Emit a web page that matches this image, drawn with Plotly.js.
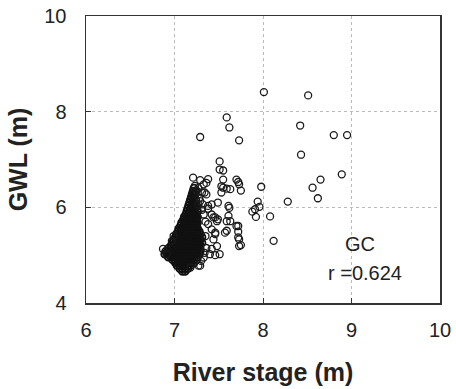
<!DOCTYPE html>
<html>
<head>
<meta charset="utf-8">
<script src="https://cdn.plot.ly/plotly-3.0.1.min.js"></script>
<style>html,body{margin:0;padding:0;background:#fff;}#chart{width:456px;height:389px;}</style>
</head>
<body>
<div id="chart"></div>
<script>
// Dense cluster: GWL rows and the river stages read along each row
const clusterGWL = [4.66,4.72,4.78,4.84,4.90,4.96,5.02,5.08,5.14,5.20,5.26,5.32,5.38,5.44,5.50,5.56,5.62,5.68,5.74,5.80,5.86,5.92,5.98,6.04,6.10,6.16,6.22,6.28,6.34,6.40];
const clusterStage = [
  [7.09,7.12],
  [7.06,7.09,7.12,7.15],
  [7.03,7.06,7.09,7.12,7.15,7.18],
  [7.01,7.04,7.07,7.10,7.13,7.16,7.19,7.22],
  [6.98,7.01,7.04,7.07,7.10,7.13,7.16,7.19,7.22,7.25],
  [6.93,6.96,6.99,7.02,7.05,7.08,7.11,7.14,7.17,7.20,7.23,7.26],
  [6.89,6.92,6.95,6.98,7.01,7.04,7.07,7.10,7.13,7.16,7.19,7.22,7.25,7.28],
  [6.90,6.93,6.96,6.99,7.02,7.05,7.08,7.11,7.14,7.17,7.20,7.23,7.26,7.29],
  [6.93,6.96,6.99,7.02,7.05,7.08,7.11,7.14,7.17,7.20,7.23,7.26,7.29],
  [6.96,6.99,7.02,7.05,7.08,7.11,7.14,7.17,7.20,7.23,7.26,7.29],
  [6.98,7.01,7.04,7.07,7.10,7.13,7.16,7.19,7.22,7.25,7.28,7.31],
  [6.99,7.02,7.05,7.08,7.11,7.14,7.17,7.20,7.23,7.26,7.29],
  [7.01,7.04,7.07,7.10,7.13,7.16,7.19,7.22,7.25,7.28,7.31],
  [7.02,7.05,7.08,7.11,7.14,7.17,7.20,7.23,7.26,7.29],
  [7.04,7.07,7.10,7.13,7.16,7.19,7.22,7.25,7.28],
  [7.05,7.08,7.11,7.14,7.17,7.20,7.23,7.26],
  [7.07,7.10,7.13,7.16,7.19,7.22,7.25],
  [7.08,7.11,7.14,7.17,7.20,7.23,7.26],
  [7.10,7.13,7.16,7.19,7.22,7.25],
  [7.11,7.14,7.17,7.20,7.23,7.26],
  [7.13,7.16,7.19,7.22,7.25],
  [7.14,7.17,7.20,7.23,7.26],
  [7.15,7.18,7.21,7.24],
  [7.16,7.19,7.22,7.25],
  [7.17,7.20,7.23],
  [7.18,7.21,7.24],
  [7.19,7.22],
  [7.20,7.23],
  [7.21,7.24],
  [7.22]
];

// Scattered points
const riverStage = [8.01,8.51,7.59,7.62,7.29,7.73,8.42,8.80,8.95,8.43,7.51,7.51,7.55,8.89,8.65,8.56,8.62,8.28,7.98,7.94,
  7.96,7.91,7.88,7.92,8.08,8.12,7.72,7.72,7.75,7.62,7.61,7.70,7.72,7.75,7.73,7.55,7.53,7.55,7.59,7.63,
  7.53,7.21,7.29,7.38,7.33,7.36,7.34,7.31,7.36,7.29,7.27,7.32,7.38,7.42,7.49,7.61,7.38,7.42,7.44,7.46,
  7.49,7.48,7.59,7.63,7.70,7.38,7.42,7.46,7.44,7.46,7.57,7.59,7.72,7.73,7.48,7.42,7.40,7.46,7.51,7.29,
  7.27,7.18,6.99,6.97,6.87,6.91,7.73,7.33,7.35,7.31,7.28,7.25,7.23,7.27,7.35,7.36,7.34,7.33,7.30];
const gwl = [8.41,8.34,7.88,7.67,7.47,7.40,7.71,7.51,7.51,7.10,6.96,6.79,6.77,6.69,6.58,6.41,6.19,6.12,6.43,6.12,
  6.01,5.96,5.91,5.80,5.81,5.30,5.61,5.37,5.21,5.99,5.82,6.58,6.53,6.35,6.48,6.58,6.44,6.41,6.39,6.38,
  6.31,6.62,6.57,6.59,6.48,6.51,6.31,6.31,6.27,6.13,6.06,6.06,6.03,6.06,6.10,6.03,5.97,5.85,5.79,5.79,
  5.75,5.71,5.71,5.71,5.61,5.65,5.54,5.47,5.33,5.44,5.47,5.51,5.49,5.33,5.19,5.13,5.02,5.00,5.02,4.78,
  4.78,4.74,5.40,5.30,5.13,5.02,5.19,5.85,5.70,5.95,6.20,6.35,6.45,6.40,5.40,5.15,5.05,4.95,4.88];

const xTicks = [6,7,8,9,10];
const yTicks = [4,6,8,10];
const siteLabel = 'GC';
const corrLabel = 'r =0.624';

const cx = [], cy = [];
clusterGWL.forEach((g, i) => clusterStage[i].forEach(s => { cx.push(s); cy.push(g); }));

const fam = 'Liberation Sans, Arial, sans-serif';
const tickFont = {family: fam, size: 20, color: '#222'};
const titleFont = {family: fam, size: 25, color: '#222', weight: 'bold'};

const clusterTrace = {
  x: cx, y: cy, type: 'scatter', mode: 'markers',
  marker: {symbol: 'circle-open', size: 7, color: '#111', line: {width: 1.8, color: '#111'}},
  hoverinfo: 'skip'
};
const scatterTrace = {
  x: riverStage, y: gwl, type: 'scatter', mode: 'markers',
  marker: {symbol: 'circle-open', size: 7, color: '#1a1a1a', line: {width: 1.3, color: '#1a1a1a'}},
  hoverinfo: 'skip'
};

const axisCommon = {
  showline: true, mirror: true, linecolor: '#333', linewidth: 1.5,
  showgrid: true, gridcolor: '#bbbbbb', gridwidth: 1, griddash: 'dot',
  zeroline: false, ticks: 'inside', ticklen: 5, tickcolor: '#333',
  tickfont: tickFont, automargin: false
};

const layout = {
  width: 456, height: 389,
  margin: {l: 86, r: 16, t: 16, b: 86},
  paper_bgcolor: '#fff', plot_bgcolor: '#fff',
  showlegend: false,
  xaxis: Object.assign({}, axisCommon, {
    range: [6, 10], tickvals: xTicks, ticktext: xTicks.map(String),
    ticklabelstandoff: 8,
    title: {text: '<b>River stage (m)</b>', font: titleFont, standoff: 24}
  }),
  yaxis: Object.assign({}, axisCommon, {
    range: [4, 10], tickvals: yTicks, ticktext: yTicks.map(String),
    ticklabelstandoff: 14,
    title: {text: '<b>GWL (m)</b>', font: titleFont, standoff: 9}
  }),
  annotations: [
    {x: 9.1, y: 5.23, xref: 'x', yref: 'y', text: siteLabel, showarrow: false, font: {family: fam, size: 20, color: '#222'}},
    {x: 9.15, y: 4.63, xref: 'x', yref: 'y', text: corrLabel, showarrow: false, font: {family: fam, size: 20, color: '#222'}}
  ]
};

Plotly.newPlot('chart', [clusterTrace, scatterTrace], layout, {staticPlot: true, displayModeBar: false});
</script>
</body>
</html>
